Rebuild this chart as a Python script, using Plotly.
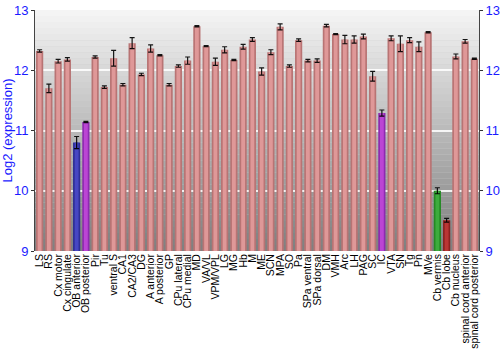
import plotly.graph_objects as go

regions = ["LS", "RS", "Cx motor", "Cx cingulate", "OB anterior", "OB posterior", "Pir", "Tu",
           "ventral S", "CA1", "CA2/CA3", "DG", "A anterior", "A posterior", "GP", "CPu lateral",
           "CPu medial", "MD", "VA/VL", "VPM/VPL", "LG", "MG", "Hb", "M", "ME", "SCN", "MPA", "SO",
           "Pa", "SPa ventral", "SPa dorsal", "DM", "VMH", "Arc", "LH", "PAG", "SC", "IC", "VTA",
           "SN", "Tg", "Pn", "MVe", "Cb vermis", "Cb lobe", "Cb nucleus", "spinal cord anterior",
           "spinal cord posterior"]

expression = [12.32, 11.70, 12.15, 12.18, 10.80, 11.14, 12.22, 11.72,
              12.20, 11.76, 12.45, 11.93, 12.36, 12.25, 11.76, 12.07,
              12.16, 12.73, 12.40, 12.14, 12.34, 12.17, 12.39, 12.51, 11.98, 12.30, 12.72, 12.07,
              12.50, 12.16, 12.16, 12.74, 12.60, 12.51, 12.51, 12.56, 11.90, 11.29, 12.53,
              12.44, 12.50, 12.39, 12.63, 10.00, 9.51, 12.23, 12.48,
              12.19]

error = [0.02, 0.07, 0.03, 0.03, 0.10, 0.01, 0.02, 0.02,
         0.13, 0.02, 0.09, 0.02, 0.06, 0.01, 0.02, 0.02,
         0.06, 0.01, 0.01, 0.06, 0.05, 0.01, 0.04, 0.03, 0.06, 0.04, 0.05, 0.02,
         0.02, 0.02, 0.03, 0.02, 0.01, 0.07, 0.06, 0.04, 0.08, 0.05, 0.04,
         0.13, 0.04, 0.08, 0.01, 0.05, 0.03, 0.04, 0.03,
         0.01]

special = {"OB anterior": ("#2e2e96", "#4a4ac8"),
           "OB posterior": ("#8e2ab0", "#c048d8"),
           "IC": ("#8e2ab0", "#c048d8"),
           "Cb vermis": ("#248a24", "#40b040"),
           "Cb lobe": ("#8c2020", "#c03838")}
edge_colors = [special.get(r, ("#b87474", ""))[0] for r in regions]
inner_colors = [special.get(r, ("", "#e49c9c"))[1] for r in regions]

ymin, ymax = 9, 13

fig = go.Figure()
fig.add_trace(go.Bar(x=regions, y=expression, marker=dict(color=edge_colors, line_width=0),
                     width=0.78, hoverinfo="skip"))
fig.add_trace(go.Bar(x=regions, y=expression, marker=dict(color=inner_colors, line_width=0),
                     width=0.42, opacity=0.9,
                     error_y=dict(type="data", array=error, color="black", thickness=1.2, width=2.5)))

# gradient background
n = 40
shapes = []
for k in range(n):
    t = k / (n - 1)
    v = 0.50 + (0.955 - 0.50) * t
    c = int(round(v * 255))
    shapes.append(dict(type="rect", xref="paper", yref="paper", x0=0, x1=1,
                       y0=k / n, y1=(k + 1) / n, fillcolor=f"rgb({c},{c},{c})",
                       line_width=0, layer="below"))

fig.update_layout(
    width=500, height=350,
    margin=dict(l=35, r=21, t=10, b=99),
    paper_bgcolor="white", plot_bgcolor="#cccccc",
    barmode="overlay", bargap=0.2, showlegend=False,
    shapes=shapes,
    font=dict(family="Liberation Sans, Arial, sans-serif"),
)
fig.update_xaxes(tickmode="array", tickvals=regions, ticktext=regions,
                 tickangle=-90, tickfont=dict(size=10.5, color="black"), showgrid=False,
                 ticks="", showline=False, range=[-0.5, len(regions) - 0.5], automargin=False)
fig.update_yaxes(range=[ymin, ymax], tickvals=[9, 10, 11, 12, 13], showgrid=True,
                 gridcolor="rgba(255,255,255,0.85)", gridwidth=2,
                 tickfont=dict(size=13, color="#1a1aff"), ticks="outside", ticklen=3,
                 tickcolor="#333", showline=True, linecolor="#444", linewidth=1, mirror="allticks",
                 title=dict(text="Log2 (expression)", font=dict(size=13, color="#1a1aff"), standoff=4),
                 zeroline=False, automargin=False)
fig.add_trace(go.Scatter(x=[regions[0]], y=[ymin], yaxis="y2", mode="markers",
                         marker=dict(opacity=0), hoverinfo="skip", showlegend=False))
fig.update_layout(yaxis2=dict(overlaying="y", side="right", range=[ymin, ymax],
                              tickvals=[9, 10, 11, 12, 13], showgrid=False, zeroline=False,
                              tickfont=dict(size=13, color="#1a1aff"), ticks="outside", ticklen=3,
                              tickcolor="#333", showline=True, linecolor="#444", automargin=False))
fig.write_html("out.html")
